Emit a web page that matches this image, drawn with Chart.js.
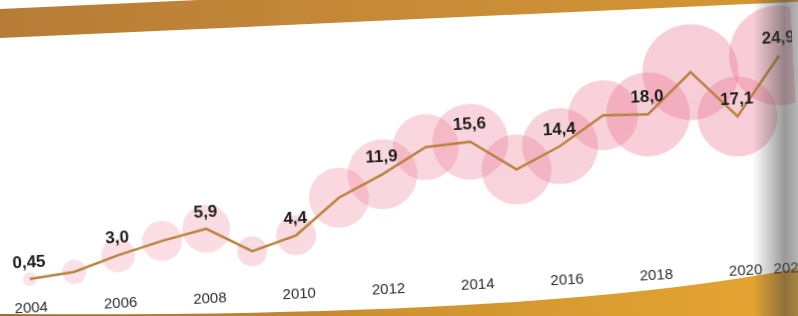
<!DOCTYPE html>
<html>
<head>
<meta charset="utf-8">
<script src="https://cdn.jsdelivr.net/npm/chart.js@4.4.1/dist/chart.umd.min.js"></script>
<style>
  html, body { margin: 0; padding: 0; background: #fff; overflow: hidden; }
  #page { position: relative; width: 798px; height: 316px; overflow: hidden; background: #fff; }
  #topBand {
    position: absolute; left: -10px; top: 9px; width: 900px; height: 29px;
    background: linear-gradient(to right, #b67c36, #c88c38 50%, #d99a2f);
    transform-origin: 10px 0; transform: rotate(-2.6deg);
  }
  #bottomBand { position: absolute; left: 0; top: 0; }
  #chartBox {
    position: absolute; left: 0; top: 0; width: 798px; height: 316px;
    transform: rotate(-3deg); transform-origin: 399px 158px;
  }
  #shade {
    position: absolute; right: 0; top: 0; width: 45px; height: 316px;
    background: linear-gradient(to right, rgba(70,70,70,0), rgba(70,70,70,0.55) 70%, rgba(90,90,90,0.45));
    pointer-events: none;
  }
</style>
</head>
<body>
<div id="page">
  <div id="topBand"></div>
  <svg id="bottomBand" width="798" height="316">
    <defs>
      <linearGradient id="gold" x1="0" x2="1" y1="0" y2="0">
        <stop offset="0" stop-color="#9c6a36"/>
        <stop offset="0.5" stop-color="#cf922f"/>
        <stop offset="1" stop-color="#e6a633"/>
      </linearGradient>
    </defs>
    <path d="M0,316 L0,314 Q550,318 798,268 L798,316 Z" fill="url(#gold)"/>
  </svg>
  <div id="chartBox"><canvas id="myChart" width="798" height="316"></canvas></div>
  <div id="shade"></div>
</div>
<script>
// years on the x axis
const years = ['2004', '2005', '2006', '2007', '2008', '2009', '2010', '2011', '2012',
               '2013', '2014', '2015', '2016', '2017', '2018', '2019', '2020', '2021'];

// line values (labelled years, others estimated)
const values = [0.45, 1.1, 3.0, 4.6, 5.9, 2.6, 4.4, 9.1, 11.9,
                15.2, 15.6, 11.6, 14.4, 18.2, 18.0, 23.3, 17.1, 24.9];

// bubble size for each year
const bubbleSize = [7, 12, 17, 20, 24, 15, 20, 30, 35,
                    33, 38, 35, 38, 35, 42, 48, 40, 50];

// years that carry a value label and a tick label
const labelledYears = ['2004', '2006', '2008', '2010', '2012', '2014', '2016', '2018', '2020', '2021'];

function formatValue(v) {
    // decimal comma, as in the original
    return (v < 1 ? v.toFixed(2) : v.toFixed(1)).replace('.', ',');
}

// draws the value above the labelled points of the line
const valueLabels = {
    id: 'valueLabels',
    afterDatasetsDraw(chart) {
        const ctx = chart.ctx;
        const meta = chart.getDatasetMeta(0);
        ctx.save();
        ctx.font = "bold 17px 'Liberation Sans', Arial, sans-serif";
        ctx.fillStyle = '#1c1c1c';
        ctx.textAlign = 'center';
        ctx.textBaseline = 'alphabetic';
        meta.data.forEach((pt, i) => {
            if (labelledYears.includes(years[i])) {
                ctx.fillText(formatValue(values[i]), pt.x, pt.y - 12);
            }
        });
        ctx.restore();
    }
};

var ctx = document.getElementById('myChart').getContext('2d');

// fixed size canvas: the rotated box would give a wrong measured size
var chart = new Chart(ctx, {
    type: 'line',
    data: {
        labels: years,
        datasets: [{
            label: 'Value',
            data: values,
            borderColor: '#b9823d',
            borderWidth: 2.5,
            pointRadius: 0,
            tension: 0,
            order: 0
        }, {
            type: 'bubble',
            label: 'Bubbles',
            data: years.map((y, i) => ({ x: y, y: values[i], r: bubbleSize[i] })),
            // older bubbles are paler in the print
            backgroundColor: (c) => 'rgba(232, 108, 138, ' + (0.2 + 0.15 * c.dataIndex / 17).toFixed(3) + ')',
            borderWidth: 0,
            clip: false,
            order: 1
        }]
    },
    options: {
        responsive: false,
        animation: false,
        events: [],
        layout: { autoPadding: false, padding: { left: 24, right: 14, top: 37, bottom: 0 } },
        plugins: {
            legend: { display: false },
            tooltip: { enabled: false }
        },
        scales: {
            x: {
                type: 'category',
                offset: false,
                grid: { display: false },
                border: { display: false },
                ticks: {
                    autoSkip: false,
                    maxRotation: 0,
                    padding: 9,
                    color: '#2b2b2b',
                    font: { family: "'Liberation Sans', Arial, sans-serif", size: 15 },
                    callback: function(value) {
                        const y = this.getLabelForValue(value);
                        return labelledYears.includes(y) ? y : null;
                    }
                },
                // let the end labels run to the edge instead of shrinking the plot
                afterFit: function(scale) {
                    scale.paddingLeft = 0;
                    scale.paddingRight = 0;
                    scale.height = 53;
                }
            },
            y: {
                type: 'linear',
                min: 0,
                max: 30,
                display: false
            }
        }
    },
    plugins: [valueLabels]
});
</script>
</body>
</html>
